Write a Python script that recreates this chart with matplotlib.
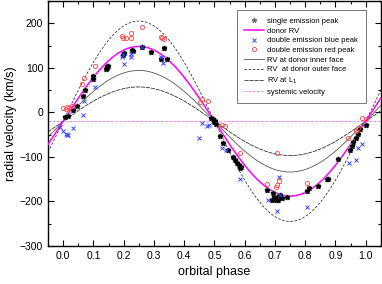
import matplotlib
matplotlib.use("Agg")
import matplotlib.pyplot as plt
from matplotlib.ticker import MultipleLocator, FormatStrFormatter
from matplotlib.lines import Line2D
import numpy as np

plt.rcParams['font.family'] = ['Liberation Sans', 'DejaVu Sans']

# single emission peak
phase_single = [0.006, 0.016, 0.031, 0.046, 0.064, 0.072, 0.098, 0.100, 0.142, 0.145,
                0.148, 0.146, 0.197, 0.200, 0.227, 0.230, 0.261, 0.291, 0.324, 0.333,
                0.344, 0.490, 0.494, 0.498, 0.502, 0.505, 0.520, 0.529, 0.546, 0.562,
                0.568, 0.573, 0.582, 0.584, 0.588, 0.673, 0.689, 0.692, 0.697, 0.703,
                0.708, 0.711, 0.716, 0.722, 0.739, 0.807, 0.813, 0.843, 0.871, 0.874,
                0.907, 0.948, 0.956, 0.959, 0.967, 0.976, 0.981, 1.000]
rv_single = [-10, -8, 5, 15, 37, 51, 75, 81, 98, 103,
             105, 100, 128, 133, 141, 137, 146, 135, 120, 144,
             120, -13, -14, -22, -20, -27, -53, -68, -85, -100,
             -108, -114, -119, -126, -123, -175, -196, -182, -190, -197,
             -190, -197, -186, -193, -190, -176, -171, -165, -150, -149,
             -104, -85, -75, -67, -58, -48, -37, -28]

# double emission, blue peak
phase_blue = [-0.012, 0.000, 0.008, 0.012, 0.016, 0.033, 0.064, 0.068, 0.104, 0.194,
              0.197, 0.201, 0.223, 0.225, 0.261, 0.322, 0.330, 0.450, 0.458, 0.476,
              0.482, 0.526, 0.538, 0.584, 0.678, 0.708, 0.714, 0.717, 0.807, 0.945,
              0.967, 0.974, 0.989]
rv_blue = [-33, -42, -48, -52, -50, -36, -5, 25, 57, 124,
           130, 108, 124, 130, 147, 124, 110, -57, -24, -31,
           -29, -80, -85, -149, -197, -222, -145, -186, -212, -114,
           -108, -79, -72]

# double emission, red peak
phase_red = [0.000, 0.008, 0.012, 0.020, 0.028, 0.063, 0.069, 0.104, 0.194, 0.197,
             0.208, 0.225, 0.225, 0.260, 0.322, 0.327, 0.332, 0.451, 0.459, 0.479,
             0.526, 0.535, 0.584, 0.675, 0.706, 0.706, 0.714, 0.704, 0.807, 0.943,
             0.967, 0.976, 0.989, 1.000]
rv_red = [9, 7, 11, 9, 14, 63, 76, 104, 171, 167,
          168, 178, 168, 191, 170, 167, 164, 23, 31, 25,
          -29, -31, -91, -160, -164, -91, -155, -167, -158, -58,
          -43, -35, -13, -15]

# model curves: systemic velocity and semi-amplitudes (km/s)
gamma = -20
K_donor = 168
K_inner = 114
K_outer = 225
K_L1 = 77

fig = plt.figure(figsize=(3.82, 2.84), dpi=100)
ax = fig.add_axes([0.1257, 0.134, 0.8713, 0.8625])

ph = np.linspace(-0.05, 1.05, 400)
s = np.sin(2 * np.pi * ph)

ax.axhline(gamma, color='#ff55ff', lw=0.5, ls=(0, (4, 2)), zorder=1)
ax.plot(ph, gamma + K_outer * s, color='#333333', lw=0.6, ls=(0, (3, 2)), zorder=2)
ax.plot(ph, gamma + K_inner * s, color='#555555', lw=0.6, zorder=2)
ax.plot(ph, gamma + K_L1 * s, color='#333333', lw=0.6, ls=(0, (5, 1)), zorder=2)
ax.plot(ph, gamma + K_donor * s, color='#ff00ff', lw=1.1, zorder=3)

ax.plot(phase_single, rv_single, ls='none', marker='s', ms=3.5, color='#a0a0a0', zorder=4)
ax.plot(phase_single, rv_single, ls='none', marker='*', ms=3.5, color='black', zorder=5)
ax.plot(phase_blue, rv_blue, ls='none', marker='x', ms=3.3, mew=0.7, color='#3344ff', zorder=6)
ax.plot(phase_red, rv_red, ls='none', marker='o', ms=3.0, mew=0.6, mfc='none', mec='#ff4040', zorder=6)

ax.set_xlim(-0.05, 1.05)
ax.set_ylim(-300, 250)
ax.xaxis.set_major_locator(MultipleLocator(0.1))
ax.xaxis.set_minor_locator(MultipleLocator(0.05))
ax.yaxis.set_major_locator(MultipleLocator(100))
ax.yaxis.set_minor_locator(MultipleLocator(50))
ax.xaxis.set_major_formatter(FormatStrFormatter('%.1f'))
ax.tick_params(which='both', direction='in', top=True, right=True, labelsize=7.5, width=0.8)
ax.tick_params(which='major', length=4)
ax.tick_params(which='minor', length=2)
for sp in ax.spines.values():
    sp.set_linewidth(1.0)

ax.set_xlabel('orbital phase', fontsize=9)
ax.set_ylabel('radial velocity (km/s)', fontsize=9, labelpad=2)

handles = [
    Line2D([], [], ls='none', marker='*', ms=3.5, color='black', mec='#777777'),
    Line2D([], [], color='#ff00ff', lw=1.1),
    Line2D([], [], ls='none', marker='x', ms=3.3, mew=0.7, color='#3344ff'),
    Line2D([], [], ls='none', marker='o', ms=3.0, mew=0.6, mfc='none', mec='#ff4040'),
    Line2D([], [], color='#555555', lw=0.6),
    Line2D([], [], color='#333333', lw=0.6, ls=(0, (3, 2))),
    Line2D([], [], color='#333333', lw=0.6, ls=(0, (5, 1))),
    Line2D([], [], color='#ff55ff', lw=0.5, ls=(0, (4, 2))),
]
labels = ['single emission peak', 'donor RV', 'double emission blue peak',
          'double emission red peak', 'RV at donor inner face',
          'RV  at donor outer face', 'RV at L$_1$', 'systemic velocity']
leg = ax.legend(handles, labels, loc='upper right', bbox_to_anchor=(0.955, 0.963),
                fontsize=5.5, frameon=True, fancybox=False, borderpad=1.0,
                labelspacing=0.3, handlelength=2.5, handletextpad=0.5,
                borderaxespad=0)
leg.get_frame().set_edgecolor('#555555')
leg.get_frame().set_linewidth(0.7)

fig.savefig('out.png', dpi=100)
